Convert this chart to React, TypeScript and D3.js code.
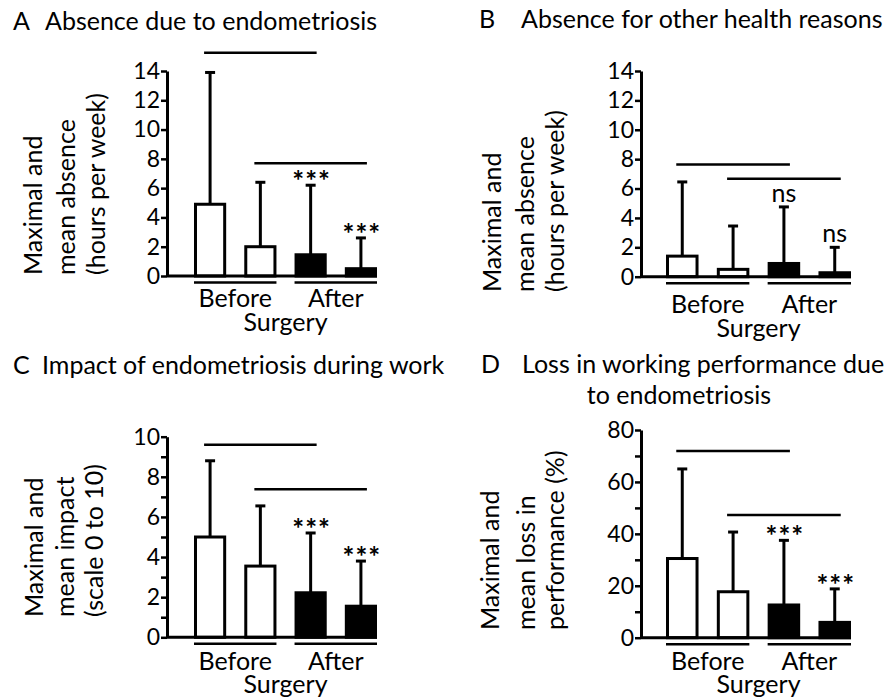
import * as d3 from 'd3';
import { useEffect, useRef } from 'react';

// bar order inside each panel: before (maximal, mean), after (maximal, mean)
const barKeys = ['before-max', 'before-mean', 'after-max', 'after-mean'];
const groupLabels = ['Before', 'After'];
const xTitle = 'Surgery';

// A - absence due to endometriosis (hours per week)
const valueA = [4.9, 2.0, 1.45, 0.5];
const errA = [13.9, 6.4, 6.2, 2.6];
const sigA = ['***', '***'];
const sigLevelA = [15.25, 7.7];
const ticksA = [0, 2, 4, 6, 8, 10, 12, 14];

// B - absence for other health reasons
const valueB = [1.4, 0.5, 0.9, 0.27];
const errB = [6.45, 3.45, 4.75, 2.0];
const sigB = ['ns', 'ns'];
const sigLevelB = [7.63, 6.67];
const ticksB = [0, 2, 4, 6, 8, 10, 12, 14];

// C - impact during work (scale 0 to 10)
const valueC = [5.0, 3.55, 2.22, 1.55];
const errC = [8.8, 6.55, 5.2, 3.8];
const sigC = ['***', '***'];
const sigLevelC = [9.6, 7.38];
const ticksC = [0, 2, 4, 6, 8, 10];
const minorC = [1, 3, 5, 7, 9];

// D - loss in working performance (%)
const valueD = [30.5, 17.7, 12.6, 5.9];
const errD = [65, 40.7, 37.5, 18.8];
const sigD = ['***', '***'];
const sigLevelD = [71.9, 47.3];
const ticksD = [0, 20, 40, 60, 80];
const minorD = [10, 30, 50, 70];

const FONT = 'Lato, "Open Sans", sans-serif';
const FS = '25px';

type Panel = {
    letter: string;
    title: string[];
    yLabel: string[];
    values: number[];
    errs: number[];
    sig: string[];
    sigLevel: number[];
    ticks: number[];
    minor: number[];
    layout: {
        letterX: number; titleX: number; titleY: number; title2X?: number;
        axisX: number; y0: number; y1: number; barLeft: number; barRight: number;
        yLabelX: number[]; yLabelY: number; groupY: number; surgeryY: number;
    };
};

const panels: Panel[] = [
    {
        letter: 'A', title: ['Absence due to endometriosis'],
        yLabel: ['Maximal and', 'mean absence', '(hours per week)'],
        values: valueA, errs: errA, sig: sigA, sigLevel: sigLevelA, ticks: ticksA, minor: [],
        layout: { letterX: 13, titleX: 45, titleY: 30, axisX: 167, y0: 276, y1: 71, barLeft: 194, barRight: 377,
            yLabelX: [42, 75, 105], yLabelY: 275, groupY: 307, surgeryY: 331 },
    },
    {
        letter: 'B', title: ['Absence for other health reasons'],
        yLabel: ['Maximal and', 'mean absence', '(hours per week)'],
        values: valueB, errs: errB, sig: sigB, sigLevel: sigLevelB, ticks: ticksB, minor: [],
        layout: { letterX: 479, titleX: 521, titleY: 28, axisX: 641, y0: 276.7, y1: 71, barLeft: 666, barRight: 851,
            yLabelX: [501, 534, 564], yLabelY: 292, groupY: 313, surgeryY: 337 },
    },
    {
        letter: 'C', title: ['Impact of endometriosis during work'],
        yLabel: ['Maximal and', 'mean impact', '(scale 0 to 10)'],
        values: valueC, errs: errC, sig: sigC, sigLevel: sigLevelC, ticks: ticksC, minor: minorC,
        layout: { letterX: 13, titleX: 42, titleY: 374, axisX: 167, y0: 637.3, y1: 436.7, barLeft: 194, barRight: 377,
            yLabelX: [43, 74, 103], yLabelY: 617, groupY: 670, surgeryY: 693 },
    },
    {
        letter: 'D', title: ['Loss in working performance due', 'to endometriosis'],
        yLabel: ['Maximal and', 'mean loss in', 'performance (%)'],
        values: valueD, errs: errD, sig: sigD, sigLevel: sigLevelD, ticks: ticksD, minor: minorD,
        layout: { letterX: 481, titleX: 522, titleY: 373, title2X: 679, axisX: 641, y0: 637.7, y1: 430, barLeft: 666, barRight: 851,
            yLabelX: [499, 535, 564], yLabelY: 630, groupY: 670, surgeryY: 693 },
    },
];

export default function App() {
    const ref = useRef<SVGSVGElement | null>(null);

    useEffect(() => {
        document.body.style.margin = '0';
        if (!ref.current) return;
        const svg = d3.select(ref.current);
        svg.selectAll('*').remove();

        panels.forEach((p) => {
            const L = p.layout;
            const g = svg.append('g').style('font-family', FONT).attr('fill', '#000');

            const x = d3.scaleBand().domain(barKeys).range([L.barLeft, L.barRight]).paddingInner(0.36).paddingOuter(0);
            const y = d3.scaleLinear().domain([0, p.ticks[p.ticks.length - 1]]).range([L.y0, L.y1]);
            const bw = x.bandwidth();
            const cx = (k: string) => x(k)! + bw / 2;

            // titles (second line of D centred under the first)
            g.append('text').attr('x', L.letterX).attr('y', L.titleY).style('font-size', FS).text(p.letter);
            g.append('text').attr('x', L.titleX).attr('y', L.titleY).style('font-size', FS).text(p.title[0]);
            if (p.title[1]) {
                g.append('text').attr('x', L.title2X!).attr('y', L.titleY + 30.5).attr('text-anchor', 'middle')
                    .style('font-size', FS).text(p.title[1]);
            }

            // y label
            p.yLabel.forEach((t, i) => {
                g.append('text')
                    .attr('transform', `translate(${L.yLabelX[i]},${L.yLabelY}) rotate(-90)`)
                    .style('font-size', FS)
                    .text(t);
            });

            // bars
            g.append('g').selectAll('rect').data(barKeys).join('rect')
                .attr('x', (d) => x(d)! + 1.5)
                .attr('y', (_, i) => y(p.values[i]))
                .attr('width', bw - 3)
                .attr('height', (_, i) => L.y0 - y(p.values[i]))
                .attr('fill', (_, i) => (i < 2 ? '#fff' : '#000'))
                .attr('stroke', '#000')
                .attr('stroke-width', 3);

            // error bars (upper only)
            const eb = g.append('g').attr('stroke', '#000').attr('stroke-width', 3);
            barKeys.forEach((k, i) => {
                eb.append('line').attr('x1', cx(k)).attr('x2', cx(k)).attr('y1', y(p.values[i])).attr('y2', y(p.errs[i]));
                eb.append('line').attr('x1', cx(k) - 5).attr('x2', cx(k) + 5).attr('y1', y(p.errs[i])).attr('y2', y(p.errs[i]));
            });

            // y axis
            const ax = g.append('g').attr('transform', `translate(${L.axisX},0)`)
                .call(d3.axisLeft(y).tickValues(p.ticks).tickSizeInner(6).tickSizeOuter(0).tickPadding(1));
            ax.select('.domain').attr('stroke-width', 3);
            ax.selectAll('.tick line').attr('stroke-width', 2.5);
            ax.selectAll('.tick text').style('font-size', '23px').style('font-family', FONT).attr('fill', '#000');
            if (p.minor.length) {
                const mi = g.append('g').attr('transform', `translate(${L.axisX},0)`)
                    .call(d3.axisLeft(y).tickValues(p.minor).tickSizeInner(6).tickSizeOuter(0).tickFormat(() => ''));
                mi.select('.domain').remove();
                mi.selectAll('.tick line').attr('stroke-width', 2.5);
            }

            // x baseline
            g.append('line').attr('x1', L.axisX).attr('x2', L.barRight).attr('y1', L.y0).attr('y2', L.y0)
                .attr('stroke', '#000').attr('stroke-width', 3);

            // group underlines + labels
            groupLabels.forEach((lab, gi) => {
                const a = x(barKeys[gi * 2])!;
                const b = x(barKeys[gi * 2 + 1])! + bw;
                g.append('line').attr('x1', a).attr('x2', b).attr('y1', L.y0 + 6.5).attr('y2', L.y0 + 6.5)
                    .attr('stroke', '#000').attr('stroke-width', 2.5);
                g.append('text').attr('x', (a + b) / 2).attr('y', L.groupY).attr('text-anchor', 'middle')
                    .style('font-size', FS).text(lab);
            });
            g.append('text').attr('x', (L.barLeft + L.barRight) / 2).attr('y', L.surgeryY).attr('text-anchor', 'middle')
                .style('font-size', FS).text(xTitle);

            // significance brackets: before vs after for each measure
            [0, 1].forEach((j) => {
                const ly = y(p.sigLevel[j]);
                g.append('line').attr('x1', cx(barKeys[j]) - 6).attr('x2', cx(barKeys[j + 2]) + 6)
                    .attr('y1', ly).attr('y2', ly).attr('stroke', '#000').attr('stroke-width', 2.5);
                const top = y(p.errs[j + 2]);
                const isStar = p.sig[j] === '***';
                g.append('text').attr('x', cx(barKeys[j + 2]) + (isStar ? 1 : 0)).attr('y', isStar ? top + 6 : top - 5)
                    .attr('text-anchor', 'middle')
                    .style('font-size', isStar ? '28px' : FS)
                    .style('font-weight', isStar ? 'bold' : 'normal')
                    .style('letter-spacing', isStar ? '1px' : '0')
                    .text(p.sig[j]);
            });
        });
    }, []);

    return <svg ref={ref} width={888} height={699} style={{ display: 'block', background: '#fff' }} />;
}
